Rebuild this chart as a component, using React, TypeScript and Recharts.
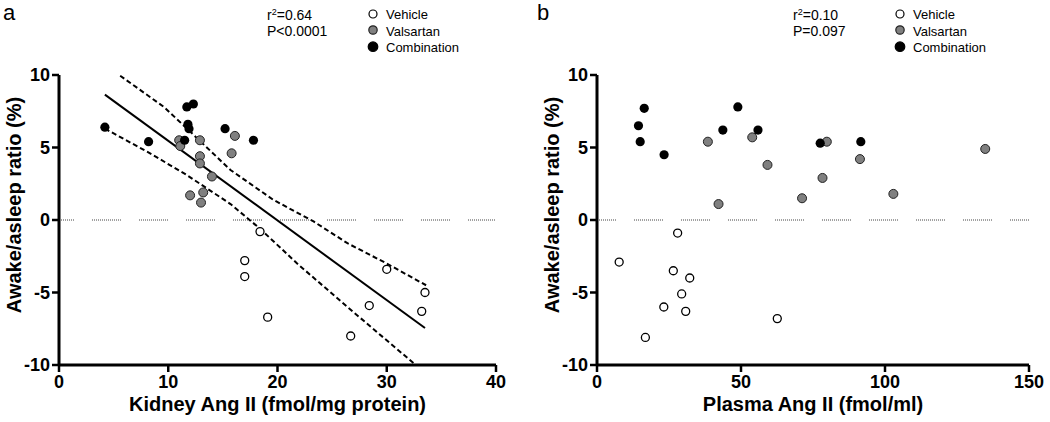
import { ScatterChart, Scatter, XAxis, YAxis, ReferenceLine, Label } from 'recharts';

const FONT = '"Liberation Sans", Arial, Helvetica, sans-serif';

// panel a: kidney Ang II (fmol/mg protein) vs awake/asleep ratio (%)
const kidneyVehicle = [[18.4, -0.8], [17.0, -2.8], [17.0, -3.9], [19.1, -6.7], [26.7, -8.0], [28.4, -5.9], [30.0, -3.4], [33.5, -5.0], [33.2, -6.3]];
const kidneyValsartan = [[11.0, 5.5], [11.1, 5.1], [12.9, 5.5], [16.1, 5.8], [15.8, 4.6], [12.9, 4.4], [12.9, 3.9], [14.0, 3.0], [13.2, 1.9], [12.0, 1.7], [13.0, 1.2]];
const kidneyCombination = [[4.2, 6.4], [8.2, 5.4], [11.7, 7.8], [12.3, 8.0], [11.8, 6.6], [11.9, 6.3], [11.5, 5.5], [15.2, 6.3], [17.8, 5.5]];
const kidneyFit = [[4.2, 8.65], [33.5, -7.45]];
const kidneyUpper = [[5.6, 9.95], [9.6, 7.8], [12.0, 6.1], [15.7, 3.45], [19.6, 1.4], [23.3, -0.1], [26.4, -1.6], [30.0, -3.0], [33.6, -4.5]];
const kidneyLower = [[4.2, 6.3], [8.1, 4.7], [11.7, 3.1], [15.7, 1.1], [18.4, -0.6], [21.8, -3.0], [26.4, -6.0], [32.5, -9.9]];
const kidneyTicks = [0, 10, 20, 30, 40];

// panel b: plasma Ang II (fmol/ml)
const plasmaVehicle = [[28.0, -0.9], [7.7, -2.9], [26.5, -3.5], [32.2, -4.0], [29.4, -5.1], [23.2, -6.0], [30.8, -6.3], [16.8, -8.1], [62.6, -6.8]];
const plasmaValsartan = [[38.5, 5.4], [53.9, 5.7], [59.2, 3.8], [42.2, 1.1], [71.2, 1.5], [79.8, 5.4], [91.3, 4.2], [78.3, 2.9], [102.9, 1.8], [134.8, 4.9]];
const plasmaCombination = [[16.4, 7.7], [14.4, 6.5], [15.0, 5.4], [23.3, 4.5], [48.9, 7.8], [43.7, 6.2], [55.9, 6.2], [77.5, 5.3], [91.6, 5.4]];
const plasmaTicks = [0, 50, 100, 150];

const yTicks = [-10, -5, 0, 5, 10];
const yTitle = 'Awake/asleep ratio (%)';
const legendNames = ['Vehicle', 'Valsartan', 'Combination'];

const toPoints = (pairs: number[][]) => pairs.map(([x, y]) => ({ x, y }));

const zeroDash = Array(15).fill('1 1').join(' ') + ' 0 17';

const VehicleDot = (p: any) => <circle cx={p.cx} cy={p.cy} r={4} fill='#fff' stroke='#000' strokeWidth={1.3} />;
const ValsartanDot = (p: any) => <circle cx={p.cx} cy={p.cy} r={4.5} fill='#808080' stroke='#222' strokeWidth={1} />;
const CombinationDot = (p: any) => <circle cx={p.cx} cy={p.cy} r={4.6} fill='#000' />;
const NoDot = () => <g />;

type PanelProps = {
  vehicle: number[][];
  valsartan: number[][];
  combination: number[][];
  fit?: number[][];
  upper?: number[][];
  lower?: number[][];
  xMax: number;
  xTicks: number[];
  xTitle: string;
  yAxisWidth: number;
  marginRight: number;
  dashOffset: number;
};

function Panel(props: PanelProps) {
  const { yAxisWidth, marginRight } = props;
  const width = 525;
  const plotCenter = yAxisWidth + (width - yAxisWidth - marginRight) / 2;
  const axisStyle = { stroke: '#000', strokeWidth: 3 };
  const tickStyle = { fontSize: 18, fontWeight: 'bold', fill: '#000', fontFamily: FONT };
  return (
    <ScatterChart width={width} height={422} margin={{ top: 75, right: marginRight, left: 0, bottom: 0 }}>
      <XAxis
        type='number'
        dataKey='x'
        domain={[0, props.xMax]}
        ticks={props.xTicks}
        height={57}
        axisLine={axisStyle}
        tickLine={{ stroke: '#000', strokeWidth: 2.5 }}
        tickSize={7}
        tickMargin={3}
        tick={tickStyle}
      >
        <Label
          content={() => (
            <text x={plotCenter} y={411} textAnchor='middle' fontSize={20} fontWeight='bold' fontFamily={FONT} fill='#000'>
              {props.xTitle}
            </text>
          )}
        />
      </XAxis>
      <YAxis
        type='number'
        dataKey='y'
        domain={[-10, 10]}
        ticks={yTicks}
        width={yAxisWidth}
        axisLine={axisStyle}
        tickLine={{ stroke: '#000', strokeWidth: 2.5 }}
        tickSize={7}
        tickMargin={2}
        tick={tickStyle}
      >
        <Label
          content={() => (
            <text
              x={yAxisWidth - 38}
              y={205}
              transform={`rotate(-90 ${yAxisWidth - 38} 205)`}
              textAnchor='middle'
              fontSize={20}
              fontWeight='bold'
              fontFamily={FONT}
              fill='#000'
            >
              {yTitle}
            </text>
          )}
        />
      </YAxis>
      <ReferenceLine y={0} stroke='#444' strokeWidth={1} strokeDasharray={zeroDash} strokeDashoffset={props.dashOffset} />
      {props.upper && (
        <Scatter data={toPoints(props.upper)} line={{ stroke: '#000', strokeWidth: 2, strokeDasharray: '5 3' }} lineType='joint' shape={NoDot} isAnimationActive={false} />
      )}
      {props.lower && (
        <Scatter data={toPoints(props.lower)} line={{ stroke: '#000', strokeWidth: 2, strokeDasharray: '5 3' }} lineType='joint' shape={NoDot} isAnimationActive={false} />
      )}
      {props.fit && (
        <Scatter data={toPoints(props.fit)} line={{ stroke: '#000', strokeWidth: 2 }} lineType='joint' shape={NoDot} isAnimationActive={false} />
      )}
      <Scatter data={toPoints(props.vehicle)} shape={VehicleDot} isAnimationActive={false} />
      <Scatter data={toPoints(props.valsartan)} shape={ValsartanDot} isAnimationActive={false} />
      <Scatter data={toPoints(props.combination)} shape={CombinationDot} isAnimationActive={false} />
    </ScatterChart>
  );
}

function Annotations({ letter, letterX, statX, legendX, r2, p }: { letter: string; letterX: number; statX: number; legendX: number; r2: string; p: string }) {
  const rows = [14, 30, 46.7];
  const baselines = [19.3, 36, 51.7];
  const markers = [
    { fill: '#fff', stroke: '#000', r: 4 },
    { fill: '#808080', stroke: '#222', r: 4.2 },
    { fill: '#000', stroke: '#000', r: 4.8 },
  ];
  return (
    <g fontFamily={FONT} fill='#000'>
      <text x={letterX} y={20} fontSize={22}>{letter}</text>
      <text x={statX} y={20} fontSize={14}>
        r<tspan dy={-5} fontSize={9}>2</tspan><tspan dy={5}>={r2}</tspan>
      </text>
      <text x={statX} y={36} fontSize={14}>{p}</text>
      {legendNames.map((name, i) => (
        <g key={name}>
          <circle cx={legendX} cy={rows[i]} r={markers[i].r} fill={markers[i].fill} stroke={markers[i].stroke} strokeWidth={1.2} />
          <text x={legendX + 13} y={baselines[i]} fontSize={13}>{name}</text>
        </g>
      ))}
    </g>
  );
}

export default function App() {
  return (
    <div style={{ position: 'absolute', left: 0, top: 0, width: 1050, height: 422, background: '#fff' }}>
      <div style={{ position: 'absolute', left: 0, top: 0 }}>
        <Panel
          vehicle={kidneyVehicle}
          valsartan={kidneyValsartan}
          combination={kidneyCombination}
          fit={kidneyFit}
          upper={kidneyUpper}
          lower={kidneyLower}
          xMax={40}
          xTicks={kidneyTicks}
          xTitle='Kidney Ang II (fmol/mg protein)'
          yAxisWidth={59}
          marginRight={29}
          dashOffset={14}
        />
      </div>
      <div style={{ position: 'absolute', left: 525, top: 0 }}>
        <Panel
          vehicle={plasmaVehicle}
          valsartan={plasmaValsartan}
          combination={plasmaCombination}
          xMax={150}
          xTicks={plasmaTicks}
          xTitle='Plasma Ang II (fmol/ml)'
          yAxisWidth={72}
          marginRight={21}
          dashOffset={10}
        />
      </div>
      <svg width={1050} height={60} style={{ position: 'absolute', left: 0, top: 0, pointerEvents: 'none' }}>
        <Annotations letter='a' letterX={3} statX={267} legendX={373} r2='0.64' p='P<0.0001' />
        <Annotations letter='b' letterX={537} statX={793} legendX={900} r2='0.10' p='P=0.097' />
      </svg>
    </div>
  );
}
